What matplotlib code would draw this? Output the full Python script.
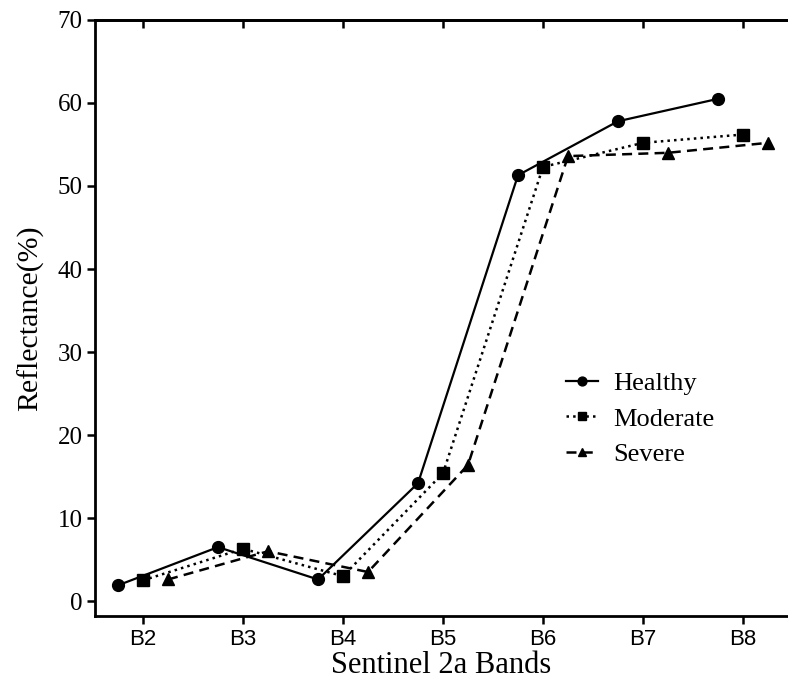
import numpy as np
import matplotlib.pyplot as plt

bands = ['B2', 'B3', 'B4', 'B5', 'B6', 'B7', 'B8']
healthy = [1.9, 6.5, 2.6, 14.2, 51.3, 57.8, 60.5]
moderate = [2.5, 6.3, 3.0, 15.4, 52.3, 55.2, 56.2]
severe = [2.6, 6.0, 3.5, 16.4, 53.6, 54.0, 55.2]

x = np.arange(len(bands))

fig = plt.figure(figsize=(7.88, 6.84), dpi=100)
ax = fig.add_axes([0.1206, 0.0994, 0.8794, 0.8714])

serif = 'Liberation Serif'

ax.plot(x - 0.25, healthy, color='black', ls='-', lw=1.6, marker='o', ms=8.5, label='Healthy')
ax.plot(x, moderate, color='black', ls=':', lw=1.8, marker='s', ms=8, label='Moderate')
ax.plot(x + 0.25, severe, color='black', ls=(0, (4, 2.5)), lw=1.8, marker='^', ms=8.5, label='Severe')

ax.set_xlim(-0.48, 6.45)
ax.set_ylim(-1.8, 70)
ax.set_xticks(x)
ax.set_xticklabels(bands, family='Liberation Sans', fontsize=16)
ax.set_yticks(np.arange(0, 71, 10))
for lab in ax.get_yticklabels():
    lab.set_family(serif)
    lab.set_fontsize(18)

ax.spines['right'].set_visible(False)
for s in ['left', 'bottom', 'top']:
    ax.spines[s].set_linewidth(2)
ax.tick_params(direction='out', length=6, width=1.8, pad=3)

top = ax.secondary_xaxis('top')
top.set_xticks(x)
top.tick_params(direction='in', length=6, width=1.8, labeltop=False)
top.spines['top'].set_linewidth(2)

ax.set_xlabel('Sentinel 2a Bands', family=serif, fontsize=22, labelpad=1)
ax.set_ylabel('Reflectance(%)', family=serif, fontsize=21.5, labelpad=10)

ax.legend(loc='upper left', bbox_to_anchor=(0.688, 0.491), bbox_transform=fig.transFigure,
          frameon=False, prop={'family': serif, 'size': 19}, handlelength=1.2,
          labelspacing=0.45, handletextpad=0.6, markerscale=0.75)

fig.savefig('out.png', dpi=100)
